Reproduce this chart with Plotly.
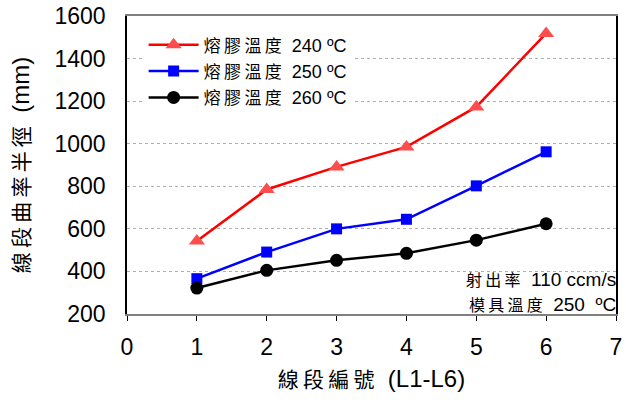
import plotly.graph_objects as go

segments = [1, 2, 3, 4, 5, 6]
temp240 = [543, 785, 891, 985, 1173, 1518]
temp250 = [366, 491, 600, 645, 802, 962]
temp260 = [322, 405, 452, 485, 547, 624]
temps = ["240", "250", "260"]

cjk = "Liberation Sans, Noto Sans CJK TC"
ts = "\u2009"


def cj(text, size):
    return '<span style="font-size:%dpx">%s</span>' % (size, ts.join(text))


names = [cj("熔膠溫度", 17) + "  " + t + " ºC" for t in temps]

fig = go.Figure()
fig.add_trace(go.Scatter(x=segments, y=temp240, name=names[0], mode="lines+markers",
                         line=dict(color="#ff0000", width=2.5),
                         marker=dict(symbol="triangle-up", size=14, color="#ff4d4d")))
fig.add_trace(go.Scatter(x=segments, y=temp250, name=names[1], mode="lines+markers",
                         line=dict(color="#0000ff", width=2.5),
                         marker=dict(symbol="square", size=11, color="#0000ff")))
fig.add_trace(go.Scatter(x=segments, y=temp260, name=names[2], mode="lines+markers",
                         line=dict(color="#000000", width=2.5),
                         marker=dict(symbol="circle", size=13, color="#000000")))

fig.update_layout(
    width=626, height=405,
    margin=dict(l=127, r=10, t=16, b=91),
    paper_bgcolor="white", plot_bgcolor="white",
    font=dict(family=cjk, color="black"),
    showlegend=True,
    legend=dict(x=0.034, y=0.965, xanchor="left", yanchor="top",
                bgcolor="rgba(255,255,255,1)", font=dict(size=18, family=cjk),
                tracegroupgap=0, itemwidth=50),
    xaxis=dict(range=[0, 7], dtick=1, showgrid=False, zeroline=False, automargin=False,
               showline=True, linecolor="#808080", linewidth=2, mirror=True,
               ticks="outside", ticklen=5, tickcolor="#000000", ticklabelstandoff=6,
               tickfont=dict(size=23, family="Liberation Sans"),
               title=dict(text=cj("線段編號", 21) + "  (L1-L6)",
                          font=dict(size=24, family=cjk), standoff=12)),
    yaxis=dict(range=[200, 1600], dtick=200, showgrid=True, gridcolor="#b0b0b0",
               griddash="dot", gridwidth=1, zeroline=False, automargin=False,
               showline=True, linecolor="#000000", linewidth=1.5, mirror=True,
               ticks="", ticklabelstandoff=15,
               tickfont=dict(size=23, family="Liberation Sans"),
               title=dict(text=cj("線段曲率半徑", 21) + "  (mm)",
                          font=dict(size=24, family=cjk), standoff=18)),
)

fig.add_annotation(x=1, y=0, xref="paper", yref="paper", xanchor="right", yanchor="bottom",
                   text=cj("射出率", 16) + "  110 ccm/s<br>" + cj("模具溫度", 16) + "  250  ºC",
                   align="right", showarrow=False,
                   font=dict(size=19, family=cjk), yshift=-3, xshift=2)

fig.write_html("out.html", config=dict(displayModeBar=False),
               post_script="document.body.style.margin='0';")
